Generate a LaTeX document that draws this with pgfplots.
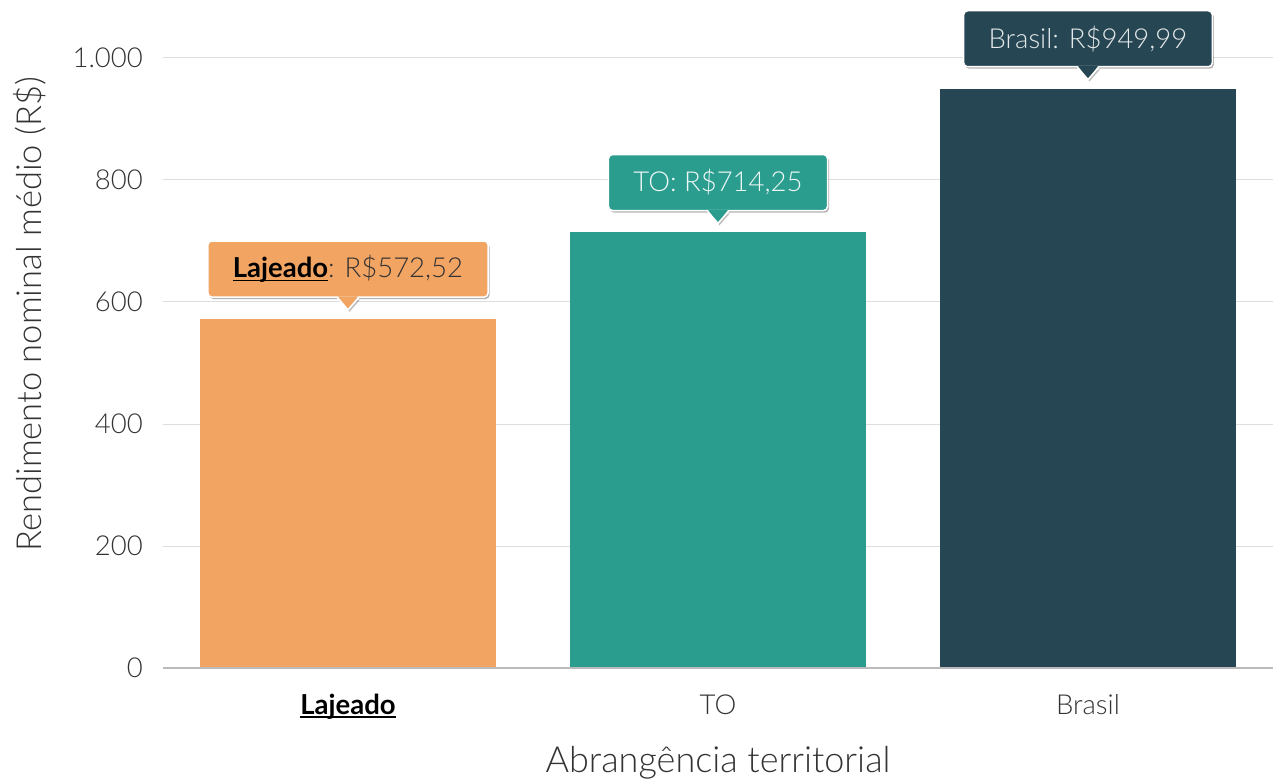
\documentclass[border=0pt]{standalone}
\usepackage{pgfplots}
\pgfplotsset{compat=1.18}
\usepackage{fontspec}
\setmainfont{Lato}[UprightFont={* Light},BoldFont={* Bold}]
\usetikzlibrary{shadows}
\definecolor{cOr}{HTML}{F2A463}
\definecolor{cTe}{HTML}{2A9D8F}
\definecolor{cDk}{HTML}{264653}
\definecolor{gridc}{HTML}{DEDEDE}
\definecolor{axisc}{HTML}{BBBBBB}
\definecolor{txt}{HTML}{333333}
\newcommand{\ul}[1]{\setbox0\hbox{#1}\rlap{\rule[-3.5pt]{\wd0}{1.6pt}}\box0}
\newcommand{\callout}[4]{% coord, fill, textcolor, text
  \fill[black, opacity=0.25] ([xshift=-9pt,yshift=19pt]#1) -- ([xshift=1.5pt,yshift=7pt]#1) -- ([xshift=12pt,yshift=19pt]#1) -- cycle;
  \node[fill=#2, draw=white, line width=1.5pt, rounded corners=4pt, anchor=south,
        minimum height=56pt, inner xsep=25pt, inner ysep=0pt, text=#3,
        font=\fontsize{27.5}{32}\selectfont,
        drop shadow={shadow xshift=1.5pt, shadow yshift=-2pt, opacity=0.3, fill=black}]
        at ([yshift=21pt]#1) {#4};
  \fill[#2] ([xshift=-10pt,yshift=22.5pt]#1) -- ([yshift=9pt]#1) -- ([xshift=10pt,yshift=22.5pt]#1) -- cycle;
  \draw[white, line width=1.5pt] ([xshift=-10.5pt,yshift=21pt]#1) -- ([yshift=9pt]#1) -- ([xshift=10.5pt,yshift=21pt]#1);
}
\begin{document}
\begin{tikzpicture}
\path[use as bounding box] (0,0) rectangle (1273pt,782pt);
\begin{axis}[
  at={(163pt,114pt)}, anchor=south west,
  scale only axis, width=1110pt, height=610pt,
  xmin=-0.5, xmax=2.5, ymin=0, ymax=1000,
  clip=false,
  axis line style={draw=none},
  axis x line*=bottom,
  axis y line=left,
  ytick={0,200,400,600,800,1000},
  xtick={0,1,2},
  xticklabels={\textcolor{black}{\ul{\textbf{Lajeado}}}, TO, Brasil},
  major tick length=0pt,
  ymajorgrids, grid style={gridc, line width=1pt},
  tick label style={font=\fontsize{27.5}{32}\selectfont, text=txt},
  yticklabel style={anchor=east, inner sep=0pt, xshift=-20pt},
  xticklabel style={anchor=base, inner sep=0pt, yshift=-46pt},
  /pgf/number format/.cd, use comma, 1000 sep={.}, assume math mode=true,
  /pgfplots/.cd,
  ylabel={Rendimento nominal médio (R\$)},
  xlabel={Abrangência territorial},
  label style={text=txt},
  ylabel style={font=\fontsize{34.5}{38}\selectfont, at={(axis description cs:-0.12,0.58)}, anchor=center, rotate=0},
  xlabel style={font=\fontsize{36}{40}\selectfont, at={(axis description cs:0.5,-0.156)}, anchor=center},
  ybar, bar width=296pt, bar shift=0pt,
]
\addplot[fill=cOr, draw=none] coordinates {(0,572.52)};
\addplot[fill=cTe, draw=none] coordinates {(1,714.25)};
\addplot[fill=cDk, draw=none] coordinates {(2,949.99)};
\draw[axisc, line width=1.2pt] (axis cs:-0.5,0) -- (axis cs:2.5,0);
\coordinate (p0) at (axis cs:0,572.52);
\coordinate (p1) at (axis cs:1,714.25);
\coordinate (p2) at (axis cs:2,949.99);
\end{axis}
\callout{p0}{cOr}{black}{\ul{\textbf{Lajeado}}\textcolor{txt}{: R\$572,52}}
\callout{p1}{cTe}{white!92!cTe}{TO: R\$714,25}
\callout{p2}{cDk}{white!88!cDk}{Brasil: R\$949,99}
\end{tikzpicture}
\end{document}
